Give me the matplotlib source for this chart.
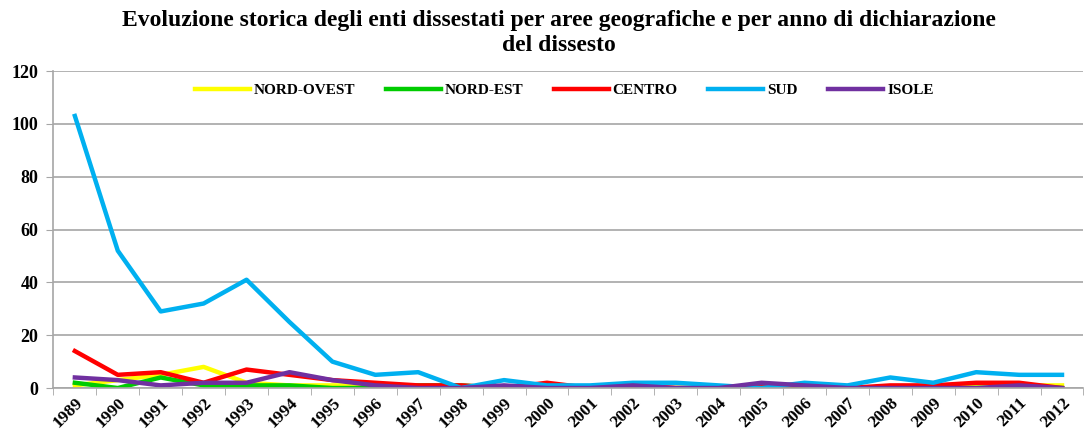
import matplotlib
matplotlib.use("Agg")
import matplotlib.pyplot as plt
import numpy as np

# DATA

YEARS = [str(y) for y in range(1989, 2013)]

NORD_OVEST = [1, 3, 5, 8, 2, 1, 1, 1, 0, 0, 0, 0, 0, 0, 0, 0, 0, 0, 0, 0, 0, 1, 1, 1]
NORD_EST   = [2, 0, 4, 1, 1, 1, 0, 0, 1, 1, 0, 0, 0, 0, 0, 0, 0, 0, 0, 0, 0, 0, 0, 0]
CENTRO     = [14, 5, 6, 2, 7, 5, 3, 2, 1, 1, 0, 2, 0, 1, 0, 0, 1, 1, 0, 1, 1, 2, 2, 0]
SUD        = [103, 52, 29, 32, 41, 25, 10, 5, 6, 0, 3, 1, 1, 2, 2, 1, 0, 2, 1, 4, 2, 6, 5, 5]
ISOLE      = [4, 3, 1, 2, 2, 6, 3, 1, 0, 0, 1, 0, 0, 1, 0, 0, 2, 1, 0, 0, 0, 0, 1, 0]

SERIES = [
    ("NORD-OVEST", NORD_OVEST, "#FFFF00"),
    ("NORD-EST", NORD_EST, "#00CC00"),
    ("CENTRO", CENTRO, "#FF0000"),
    ("SUD", SUD, "#00B0F0"),
    ("ISOLE", ISOLE, "#7030A0"),
]

TITLE = ("Evoluzione storica degli enti dissestati per aree geografiche e per anno di dichiarazione\n"
         "del dissesto")

SERIF = "Liberation Serif"

# PLOT

fig = plt.figure(figsize=(10.9, 4.36), dpi=100)
ax = fig.add_axes([0.049, 0.110, 0.945, 0.727])

x = np.arange(len(YEARS))
for name, vals, col in SERIES:
    ax.plot(x, vals, color=col, lw=3.2, label=name, solid_joinstyle="round")

ax.set_xlim(-0.5, len(YEARS) - 0.5)
ax.set_ylim(0, 120)
ax.set_yticks(range(0, 121, 20))
ax.yaxis.grid(True, color="#A6A6A6", lw=1.2)
ax.set_axisbelow(True)

ax.set_xticks(x)
ax.set_xticks(np.arange(-0.5, len(YEARS), 1), minor=True)
ax.set_xticklabels(YEARS, rotation=45, ha="right", rotation_mode="anchor",
                   family=SERIF, fontweight="bold", fontsize=12.5)
ax.tick_params(axis="x", which="major", length=0, pad=5)
ax.tick_params(axis="x", which="minor", length=5, color="#A6A6A6")
ax.tick_params(axis="y", length=5, color="#A6A6A6", labelsize=13, pad=6)
for lab in ax.get_yticklabels():
    lab.set_family(SERIF)
    lab.set_fontweight("bold")

for s in ["top", "right"]:
    ax.spines[s].set_visible(False)
for s in ["left", "bottom"]:
    ax.spines[s].set_color("#A6A6A6")
    ax.spines[s].set_linewidth(1.2)

leg = ax.legend(loc="center", bbox_to_anchor=(0.496, 0.940), ncol=5,
                frameon=False, handlelength=3.6, handletextpad=0.25,
                columnspacing=2.0, prop={"family": SERIF,
                                         "weight": "bold", "size": 11})

fig.text(0.513, 0.978, TITLE, ha="center", va="top", family=SERIF,
         fontweight="bold", fontsize=17, linespacing=1.3)

fig.savefig("out.png", dpi=100, facecolor="white")
